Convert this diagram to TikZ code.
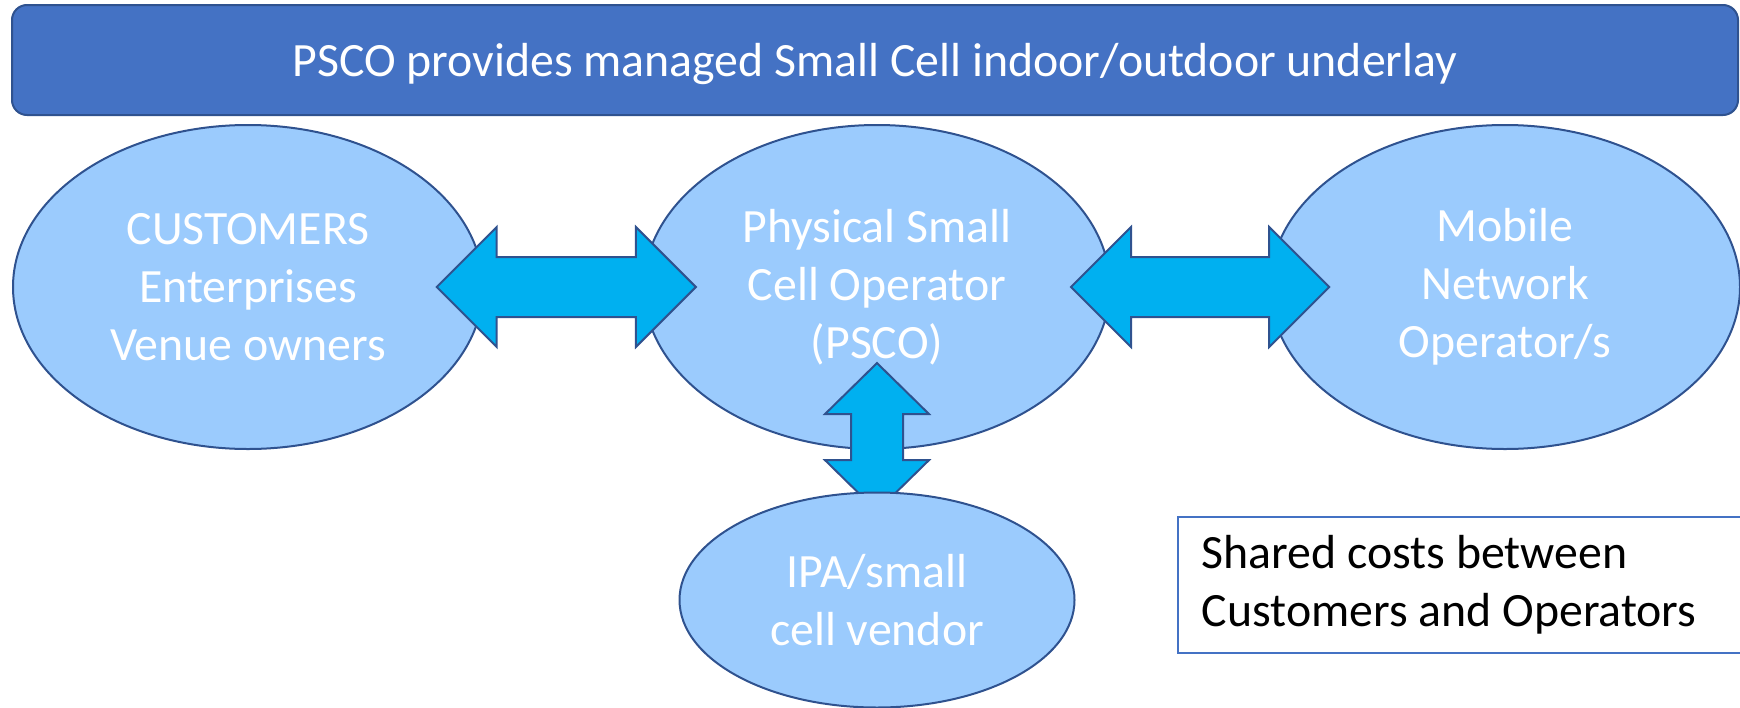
\documentclass[tikz,border=0pt]{standalone}
\usepackage{fontspec}
\setmainfont{Carlito}
\usepackage{tikz}
\usetikzlibrary{shapes.geometric}
\usetikzlibrary{calc}
\usepackage{xcolor}
\definecolor{bannercol}{HTML}{4472C4}
\definecolor{edgecol}{HTML}{2F528F}
\definecolor{partycol}{HTML}{9BCBFD}
\definecolor{arrowcol}{HTML}{00B0F0}
\tikzstyle{txt}=[font=\fontsize{47.8}{58}\selectfont]
\tikzstyle{banner}=[txt,draw=edgecol,line width=2pt,fill=bannercol,rounded corners=15pt,text=white,inner sep=0,text depth=0pt]
\tikzstyle{party}=[txt,ellipse,draw=edgecol,line width=2pt,fill=partycol,text=white,inner sep=0,align=center]
\tikzstyle{blockarrow}=[draw=edgecol,line width=2pt,fill=arrowcol,line join=miter]
\tikzstyle{note}=[txt,draw=bannercol,line width=1.5pt,fill=white,align=flush left,inner xsep=24pt,inner ysep=0]

% block arrows: from, to, head length, head half width, shaft half width
\newcommand{\dblarrowh}[5]{%
  \draw[blockarrow] (#1) -- ++(#3,-#4) |- ($(#2)+(-#3,-#5)$) -- ++(0,#5-#4) -- (#2)
    -- ++(-#3,#4) |- ($(#1)+(#3,#5)$) -- ++(0,#4-#5) -- cycle;}
\newcommand{\dblarrowv}[5]{%
  \draw[blockarrow] (#1) -- ++(#4,#3) -| ($(#2)+(#5,-#3)$) -- ++(#4-#5,0) -- (#2)
    -- ++(-#4,-#3) -| ($(#1)+(-#5,#3)$) -- ++(#5-#4,0) -- cycle;}

\begin{document}
\begin{tikzpicture}[x=1pt,y=-1pt]
  \def\W{1740} % picture width
  \def\H{707}  % picture height
  \def\Y{287}  % party row
  \def\rw{470} % party width
  \def\rh{324} % party height

  \clip (0,0) rectangle (\W,\H);

  % BANNER
  \node[banner,minimum width=1726pt,minimum height=110pt] (title) at (875,60)
    {PSCO provides managed Small Cell indoor/outdoor underlay};

  % PARTIES
  \node[party,minimum width=\rw pt,minimum height=\rh pt] (cust) at (248,\Y)
    {CUSTOMERS\\Enterprises\\Venue owners};
  \node[party,minimum width=466pt,minimum height=\rh pt] (psco) at (877,\Y)
    {Physical Small\\Cell Operator\\(PSCO)};
  \node[party,minimum width=\rw pt,minimum height=\rh pt] (mno) at (1505,\Y)
    {Mobile\\Network\\Operator/s};
  \coordinate (ipapos) at (877,600);

  % ARROWS
  \coordinate (a1) at ($(cust)!0.3!(psco)$);
  \coordinate (a2) at ($(cust)!0.712!(psco)$);
  \coordinate (b1) at ($(psco)!0.309!(mno)$);
  \coordinate (b2) at ($(psco)!0.72!(mno)$);
  \coordinate (c1) at ($(psco)!0.243!(ipapos)$);
  \coordinate (c2) at ($(psco)!0.716!(ipapos)$);
  \dblarrowh{a1}{a2}{60}{60}{30}
  \dblarrowh{b1}{b2}{60}{60}{30}
  \dblarrowv{c1}{c2}{51}{52}{26}

  \node[party,minimum width=395pt,minimum height=215pt] (ipa) at (ipapos)
    {IPA/small\\cell vendor};

  % SHARED COSTS
  \node[note,anchor=north west,text width=560pt,minimum height=136pt] (share) at (1177,516)
    {Shared costs between\\Customers and Operators};
\end{tikzpicture}
\end{document}
